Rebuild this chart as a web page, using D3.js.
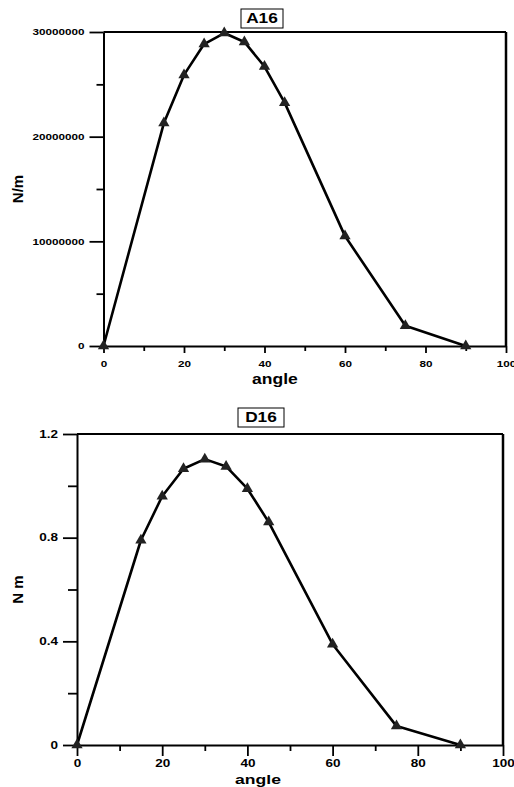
<!DOCTYPE html>
<html>
<head>
<meta charset="utf-8">
<script src="https://cdn.jsdelivr.net/npm/d3@7"></script>
<style>
  body { margin: 0; background: #fff; }
  svg { display: block; }
  text { font-family: "Liberation Sans", Arial, sans-serif; fill: #000; }
</style>
</head>
<body>
<div class="chart"></div>
<script>
var svgWidth = 514;
var svgHeight = 787;

// data
var angles = [0, 15, 20, 25, 30, 35, 40, 45, 60, 75, 90];
var a16Values = [0, 21300000, 25900000, 28850000, 29900000, 29050000, 26700000, 23250000, 10500000, 1940000, 0];
var d16Values = [0, 0.79, 0.96, 1.066, 1.103, 1.075, 0.989, 0.86, 0.389, 0.073, 0];

var xTicks = [0, 20, 40, 60, 80, 100];
var xMinor = [10, 30, 50, 70, 90];
var a16Ticks = [0, 10000000, 20000000, 30000000];
var a16Minor = [5000000, 15000000, 25000000];
var d16Ticks = [0, 0.4, 0.8, 1.2];
var d16Minor = [0.2, 0.6, 1.0];

var svg = d3.select(".chart")
  .append("svg")
  .attr("width", svgWidth)
  .attr("height", svgHeight);

// stretch text a bit wider, the original looks squashed vertically
function stretch(sel, k) {
  sel.each(function() {
    var w = this.getComputedTextLength();
    d3.select(this)
      .attr("textLength", w * k)
      .attr("lengthAdjust", "spacingAndGlyphs");
  });
}

function drawPanel(p) {
  var x = d3.scaleLinear().domain([0, 100]).range([p.left, p.right]);
  var y = d3.scaleLinear().domain(p.yDomain).range([p.bottom, p.top]);

  var g = svg.append("g");

  // minor ticks
  g.append("g")
    .attr("transform", `translate(0, ${p.bottom})`)
    .call(d3.axisBottom(x).tickValues(xMinor).tickSize(p.xMinorLen).tickFormat(""))
    .call(a => a.select(".domain").remove());
  g.append("g")
    .attr("transform", `translate(${p.left}, 0)`)
    .call(d3.axisLeft(y).tickValues(p.yMinor).tickSize(p.yMinorLen).tickFormat(""))
    .call(a => a.select(".domain").remove());

  var xAxis = g.append("g")
    .attr("transform", `translate(0, ${p.bottom})`)
    .call(d3.axisBottom(x).tickValues(xTicks).tickSize(p.xMajorLen).tickSizeOuter(0).tickPadding(p.xPad));

  var yAxis = g.append("g")
    .attr("transform", `translate(${p.left}, 0)`)
    .call(d3.axisLeft(y).tickValues(p.yTicks).tickSize(p.yMajorLen).tickSizeOuter(0)
      .tickPadding(5).tickFormat(p.yFormat));

  g.selectAll(".tick line").attr("stroke", "#000").attr("stroke-width", 1.8);
  g.selectAll(".domain").attr("stroke", "#000").attr("stroke-width", 2);

  g.selectAll(".tick text")
    .attr("fill", "#000")
    .attr("font-size", p.tickFont)
    .attr("font-weight", p.tickWeight)
    .attr("font-family", "Liberation Sans, Arial, sans-serif");
  xAxis.selectAll(".tick text").attr("dy", "0.8em");
  stretch(g.selectAll(".tick text"), p.tickStretch);

  // top and right frame
  g.append("line")
    .attr("x1", x(0)).attr("x2", x(100))
    .attr("y1", y(p.yDomain[1])).attr("y2", y(p.yDomain[1]))
    .attr("stroke", "#000").attr("stroke-width", 2);
  g.append("line")
    .attr("x1", x(100)).attr("x2", x(100))
    .attr("y1", y(p.yDomain[1])).attr("y2", y(0))
    .attr("stroke", "#000").attr("stroke-width", 2.5);

  var pts = angles.map((a, i) => [a, p.values[i]]);

  g.append("path")
    .datum(pts)
    .attr("fill", "none")
    .attr("stroke", "#000")
    .attr("stroke-width", 2.6)
    .attr("stroke-linejoin", "round")
    .attr("d", d3.line().x(d => x(d[0])).y(d => y(d[1])));

  g.selectAll(".marker")
    .data(pts)
    .enter()
    .append("path")
    .attr("class", "marker")
    .attr("transform", d => `translate(${x(d[0])}, ${y(d[1])})`)
    .attr("fill", "#222")
    .attr("d", d3.symbol().type(d3.symbolTriangle).size(55));

  // axis titles
  var xl = g.append("text")
    .attr("x", p.xLabelX)
    .attr("y", p.xLabelY)
    .attr("text-anchor", "middle")
    .attr("font-size", p.labelFont)
    .attr("font-weight", "bold")
    .text("angle");
  stretch(xl, p.labelStretch);

  g.append("text")
    .attr("transform", `translate(${p.yLabelX}, ${(p.top + p.bottom) / 2}) rotate(-90)`)
    .attr("text-anchor", "middle")
    .attr("font-size", 15)
    .attr("font-weight", "bold")
    .text(p.yLabel);

  // boxed title
  var t = g.append("text")
    .attr("x", p.titleX)
    .attr("y", p.titleY)
    .attr("text-anchor", "middle")
    .attr("font-size", 15)
    .attr("font-weight", "bold")
    .text(p.title);
  stretch(t, 1.15);
  g.append("rect")
    .attr("x", p.titleX - p.boxW / 2)
    .attr("y", p.titleY - 14)
    .attr("width", p.boxW)
    .attr("height", 19)
    .attr("fill", "none")
    .attr("stroke", "#000")
    .attr("stroke-width", 1);
}

drawPanel({
  left: 103.5, right: 506, top: 32, bottom: 346,
  yDomain: [0, 30000000], yTicks: a16Ticks, yMinor: a16Minor,
  yFormat: d3.format("d"),
  values: a16Values,
  xMajorLen: 7, xMinorLen: 5, yMajorLen: 14, yMinorLen: 7, xPad: 7,
  tickFont: 9, tickWeight: 600, tickStretch: 1.3,
  labelFont: 14, labelStretch: 1.25,
  xLabelX: 275, xLabelY: 384,
  yLabelX: 23, yLabel: "N/m",
  title: "A16", titleX: 262, titleY: 23, boxW: 42
});

drawPanel({
  left: 77, right: 503, top: 434, bottom: 745,
  yDomain: [0, 1.2], yTicks: d16Ticks, yMinor: d16Minor,
  yFormat: d => d === 0 ? "0" : d3.format(".1f")(d),
  values: d16Values,
  xMajorLen: 11, xMinorLen: 6, yMajorLen: 14, yMinorLen: 9, xPad: 3,
  tickFont: 10, tickWeight: "bold", tickStretch: 1.35,
  labelFont: 13, labelStretch: 1.35,
  xLabelX: 258, xLabelY: 783.5,
  yLabelX: 23, yLabel: "N m",
  title: "D16", titleX: 261, titleY: 422, boxW: 46
});
</script>
</body>
</html>
